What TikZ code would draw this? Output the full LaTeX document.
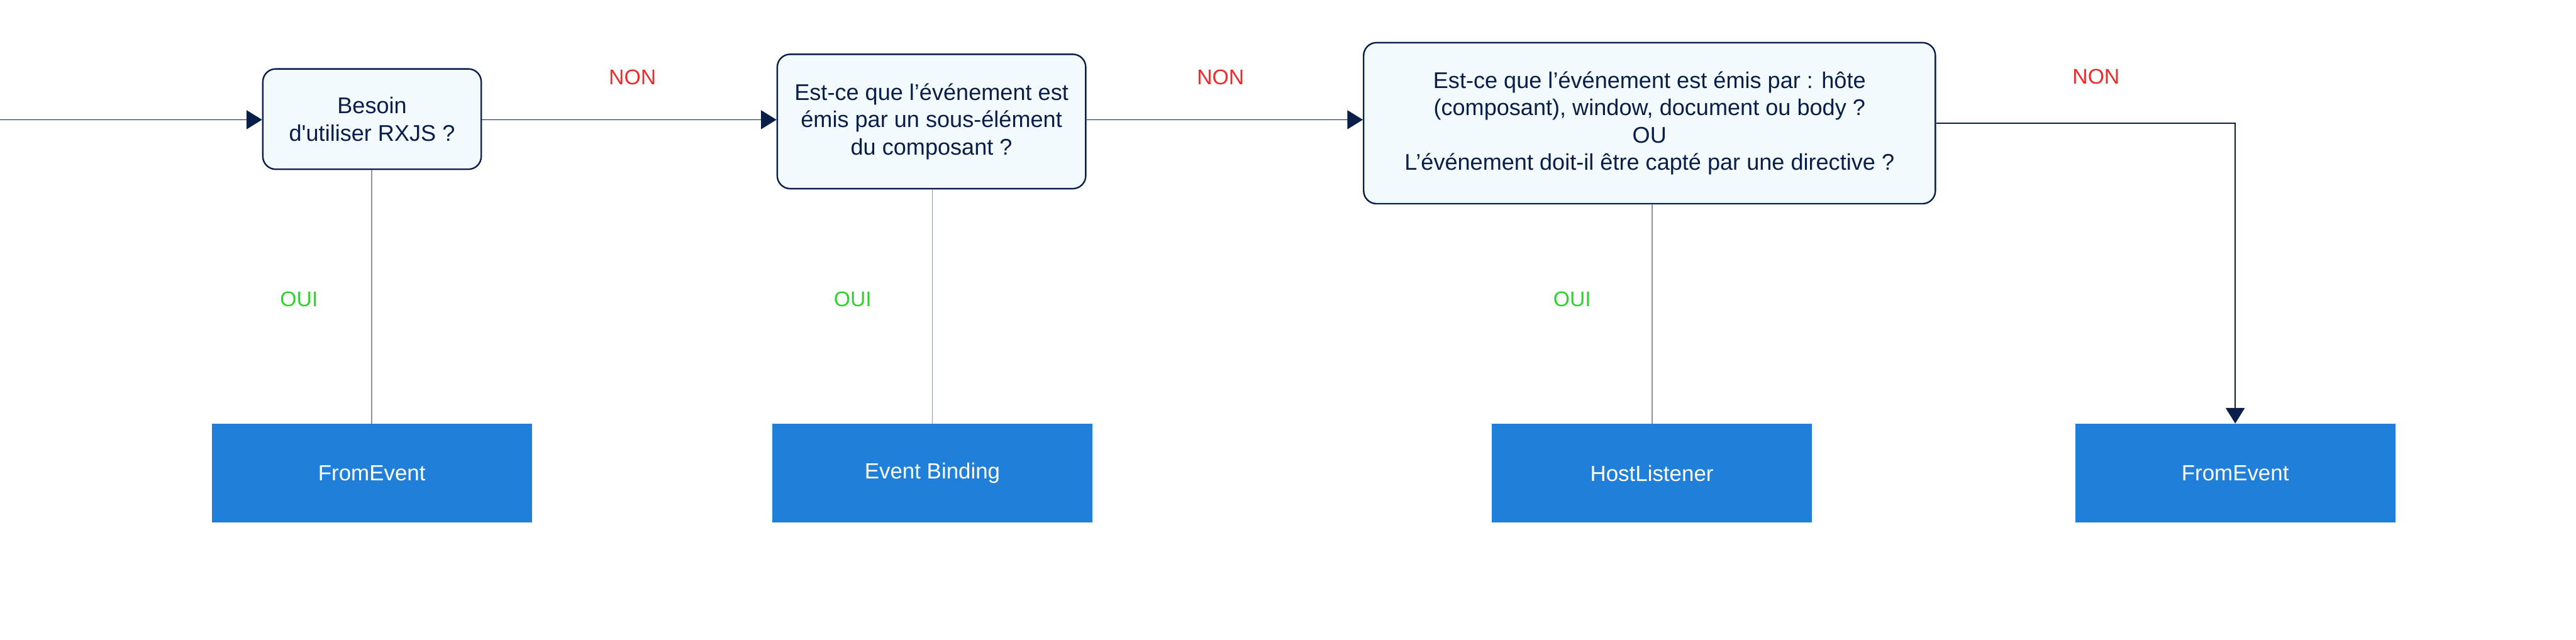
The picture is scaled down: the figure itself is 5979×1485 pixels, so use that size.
\documentclass[tikz,border=0pt]{standalone}
\usepackage{fontspec}
\setmainfont{Liberation Sans}
\usetikzlibrary{arrows.meta}
\definecolor{navy}{HTML}{0A1E4A}
\definecolor{boxfill}{HTML}{F2FAFD}
\definecolor{bluefill}{HTML}{207FD9}
\definecolor{grayline}{HTML}{8A93A8}
\definecolor{nonred}{HTML}{EE2B2B}
\definecolor{ouigreen}{HTML}{2DD42D}
\tikzset{
  decision/.style={draw=navy, line width=1pt, fill=boxfill, rounded corners=3mm,
    text=navy, align=center, font=\fontsize{15}{18}\selectfont, inner sep=0pt},
  result/.style={fill=bluefill, text=white, font=\fontsize{14.5}{17}\selectfont,
    minimum width=74.3mm, minimum height=22.9mm, inner sep=0pt},
  mainline/.style={draw=navy, line width=0.6pt},
  ouiline/.style={draw=grayline, line width=0.8pt},
  tip/.style={-{Triangle[length=3.6mm, width=4.4mm]}},
  nonlbl/.style={text=nonred, font=\fontsize{14}{16}\selectfont},
  ouilbl/.style={text=ouigreen, font=\fontsize{14}{16}\selectfont},
}
\begin{document}
\begin{tikzpicture}[x=0.1mm, y=-0.1mm]
\useasboundingbox (0,0) rectangle (5979,1485);
\node[decision, minimum width=50.7mm, minimum height=23.3mm] (b1) at (863.5,276.5) {Besoin\\d\textquotesingle utiliser RXJS ?};
\node[decision, minimum width=71.6mm, minimum height=31.2mm] (b2) at (2162,282) {Est-ce que l’événement est\\émis par un sous-élément\\du composant ?};
\node[decision, minimum width=132.7mm, minimum height=37.4mm] (b3) at (3828.5,286) {Est-ce que l’événement est émis par : hôte\\(composant), window, document ou body ?\\OU\\L’événement doit-il être capté par une directive ?};
\node[result] (r1) at (863,1098.5) {FromEvent};
\node[result] (r2) at (2164,1098.5) {Event Binding};
\node[result] (r3) at (3834,1098.5) {HostListener};
\node[result] (r4) at (5188,1098.5) {FromEvent};
\coordinate (start) at (0,278);
\draw[mainline, tip] (start) -- (b1.west |- start);
\draw[mainline, tip] (b1.east |- start) -- (b2.west |- start);
\draw[mainline, tip] (b2.east |- start) -- (b3.west |- start);
\draw[mainline, tip] (b3.east) -| (r4.north);
\draw[ouiline] (b1.south -| r1.north) -- (r1.north);
\draw[ouiline] (b2.south -| r2.north) -- (r2.north);
\draw[ouiline] (b3.south -| r3.north) -- (r3.north);
\node[nonlbl] (n1) at (1468,179) {NON};
\node[nonlbl] (n2) at (2833,179) {NON};
\node[nonlbl] (n3) at (4865,178) {NON};
\node[ouilbl] (o1) at (694,694) {OUI};
\node[ouilbl] (o2) at (1979,694) {OUI};
\node[ouilbl] (o3) at (3649,694) {OUI};
\end{tikzpicture}
\end{document}
